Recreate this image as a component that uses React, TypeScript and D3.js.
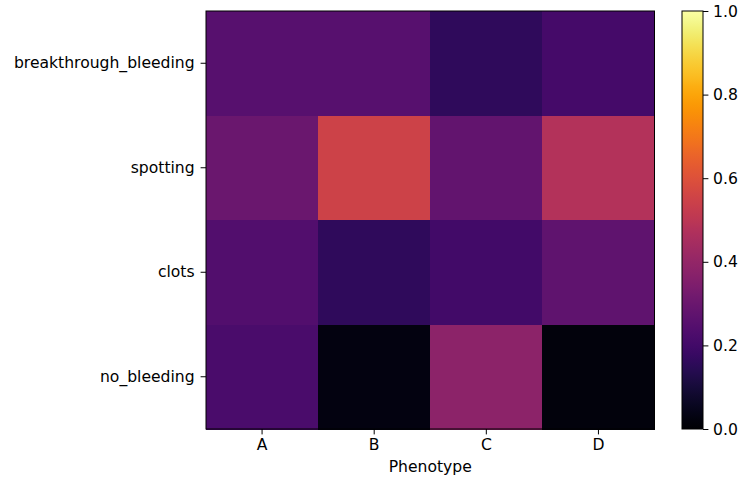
import React, { useEffect, useRef } from 'react';
import * as d3 from 'd3';

const phenotypes = ['A', 'B', 'C', 'D'];
const outcomes = ['breakthrough_bleeding', 'spotting', 'clots', 'no_bleeding'];
// rows follow outcomes, columns follow phenotypes
const values = [
  [0.25, 0.25, 0.16, 0.21],
  [0.3, 0.55, 0.28, 0.48],
  [0.24, 0.16, 0.2, 0.27],
  [0.22, 0.03, 0.38, 0.02],
];
const colorTicks = [0, 0.2, 0.4, 0.6, 0.8, 1.0];

const App = () => {
  const ref = useRef<SVGSVGElement>(null);

  useEffect(() => {
    const width = 743;
    const height = 482;
    const left = 206, right = 654.5, top = 11, bottom = 429;
    const font = 'DejaVu Sans, sans-serif';
    const fs = 15.6;

    const svg = d3.select(ref.current);
    svg.selectAll('*').remove();
    svg.attr('width', width).attr('height', height);

    const x = d3.scaleBand().domain(phenotypes).range([left, right]);
    const y = d3.scaleBand().domain(outcomes).range([top, bottom]);
    const color = (v: number) => d3.interpolateInferno(v);

    // cells
    outcomes.forEach((o, i) => {
      phenotypes.forEach((p, j) => {
        svg.append('rect')
          .attr('x', x(p)!)
          .attr('y', y(o)!)
          .attr('width', x.bandwidth() + 0.5)
          .attr('height', y.bandwidth() + 0.5)
          .attr('shape-rendering', 'crispEdges')
          .attr('fill', color(values[i][j]));
      });
    });

    // frame
    svg.append('rect')
      .attr('x', left).attr('y', top)
      .attr('width', right - left).attr('height', bottom - top)
      .attr('fill', 'none').attr('stroke', 'black').attr('stroke-width', 1);

    // x axis
    const xAxis = svg.append('g')
      .attr('transform', `translate(0,${bottom})`)
      .call(d3.axisBottom(x).tickSize(5.4).tickPadding(4.6));
    xAxis.select('.domain').remove();

    // y axis
    const yAxis = svg.append('g')
      .attr('transform', `translate(${left},0)`)
      .call(d3.axisLeft(y).tickSize(5.4).tickPadding(6));
    yAxis.select('.domain').remove();

    [xAxis, yAxis].forEach(a => {
      a.selectAll('text').attr('font-family', font).attr('font-size', fs).attr('fill', 'black');
      a.selectAll('line').attr('stroke', 'black').attr('stroke-width', 1);
    });

    svg.append('text')
      .attr('x', (left + right) / 2)
      .attr('y', 472)
      .attr('text-anchor', 'middle')
      .attr('font-family', font)
      .attr('font-size', fs)
      .text('Phenotype');

    // colorbar
    const cbLeft = 682, cbRight = 703;
    const cy = d3.scaleLinear().domain([0, 1]).range([bottom, top]);
    const defs = svg.append('defs');
    const grad = defs.append('linearGradient')
      .attr('id', 'cbgrad')
      .attr('x1', 0).attr('y1', 1).attr('x2', 0).attr('y2', 0);
    d3.range(0, 1.0001, 0.02).forEach(t => {
      grad.append('stop').attr('offset', t).attr('stop-color', color(t));
    });
    svg.append('rect')
      .attr('x', cbLeft).attr('y', top)
      .attr('width', cbRight - cbLeft).attr('height', bottom - top)
      .attr('fill', 'url(#cbgrad)')
      .attr('stroke', 'black').attr('stroke-width', 1);

    const cAxis = svg.append('g')
      .attr('transform', `translate(${cbRight},0)`)
      .call(d3.axisRight(cy).tickValues(colorTicks).tickFormat(d3.format('.1f')).tickSize(5.4).tickPadding(4.6));
    cAxis.select('.domain').remove();
    cAxis.selectAll('text').attr('font-family', font).attr('font-size', fs).attr('fill', 'black');
    cAxis.selectAll('line').attr('stroke', 'black').attr('stroke-width', 1);
  }, []);

  return <svg ref={ref} style={{ position: 'absolute', left: 0, top: 0 }} />;
};

export default App;
